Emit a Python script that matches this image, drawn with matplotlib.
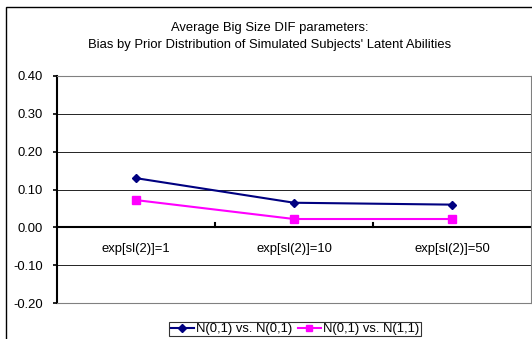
import matplotlib.pyplot as plt
from matplotlib.patches import Rectangle

plt.rcParams['font.family'] = ['Liberation Sans', 'DejaVu Sans']

categories = ['exp[sl(2)]=1', 'exp[sl(2)]=10', 'exp[sl(2)]=50']
series_names = ['N(0,1) vs. N(0,1)', 'N(0,1) vs. N(1,1)']
bias_same = [0.13, 0.065, 0.06]
bias_shift = [0.072, 0.022, 0.022]
yticks = [-0.20, -0.10, 0.00, 0.10, 0.20, 0.30, 0.40]

fs = 9.4

fig = plt.figure(figsize=(5.32, 3.39), dpi=100)
fig.patches.append(Rectangle((6 / 532, -0.1), 1.2, 1 - 7 / 339 + 0.1,
                             transform=fig.transFigure, fill=False,
                             edgecolor='black', linewidth=1.0))

ax = fig.add_axes([57 / 532, 1 - 303 / 339, 474 / 532, (303 - 76) / 339])
x = list(range(len(categories)))

ax.plot(x, bias_same, color='#000080', marker='D', markersize=4.5,
        linewidth=1.5, label=series_names[0])
ax.plot(x, bias_shift, color='#FF00FF', marker='s', markersize=5.5,
        linewidth=1.5, label=series_names[1])

ax.set_xlim(-0.5, 2.5)
ax.set_ylim(-0.2, 0.4)
ax.set_yticks(yticks)
ax.set_yticklabels([f'{v:.2f}' for v in yticks], fontsize=fs)
for v in yticks:
    if v != 0:
        ax.axhline(v, color='black', linewidth=0.6, zorder=0)
ax.axhline(0, color='black', linewidth=1.5, zorder=1)

# category boundary ticks on the zero axis
for b in [0.5, 1.5]:
    ax.plot([b, b], [0, 0.012], color='black', linewidth=1.5, zorder=1)

ax.set_xticks([])
for i, c in enumerate(categories):
    ax.text(i, -0.058, c, ha='center', va='center', fontsize=fs)

for s in ['top', 'right', 'bottom']:
    ax.spines[s].set_color('#808080')
    ax.spines[s].set_linewidth(0.8)
ax.spines['left'].set_linewidth(1.5)
ax.tick_params(axis='y', length=3, width=1.2, pad=7)

fig.text(270 / 532, 1 - 28 / 339, 'Average Big Size DIF parameters:',
         ha='center', va='center', fontsize=fs)
fig.text(270 / 532, 1 - 45 / 339,
         "Bias by Prior Distribution of Simulated Subjects' Latent Abilities",
         ha='center', va='center', fontsize=fs)

leg = fig.legend(loc='center', bbox_to_anchor=(295 / 532, 1 - 329 / 339),
                 ncol=2, fontsize=fs, frameon=True, fancybox=False,
                 edgecolor='black', borderpad=0.1, handlelength=1.8,
                 handletextpad=0.15, columnspacing=0.4, borderaxespad=0,
                 markerscale=0.8)
leg.get_frame().set_linewidth(0.8)

fig.savefig('out.png', dpi=100)
